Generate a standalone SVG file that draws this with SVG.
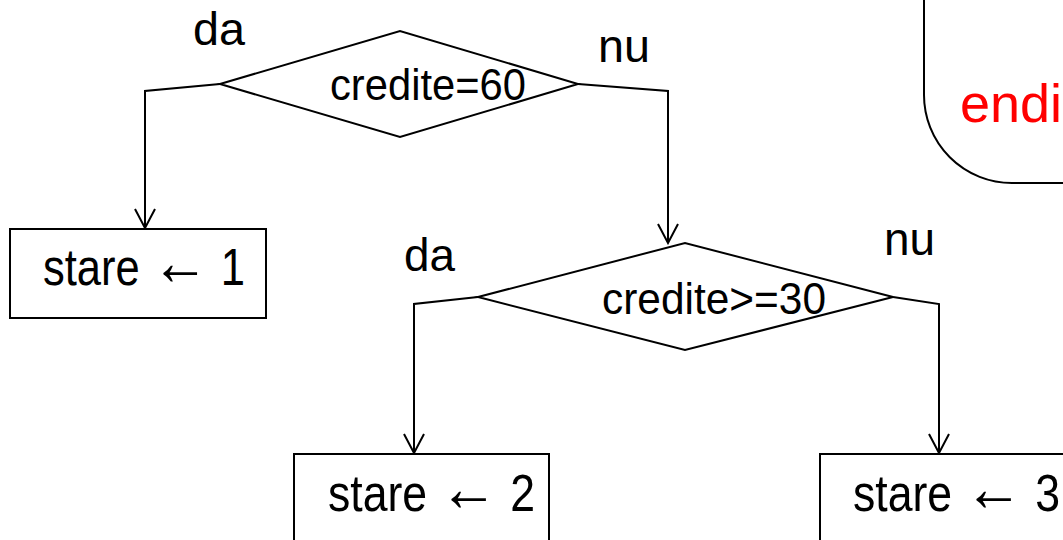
<svg xmlns="http://www.w3.org/2000/svg" width="1063" height="540" viewBox="0 0 1063 540">
<style>
.shape{fill:#fff;stroke:#000;stroke-width:2}
.t{font-family:"Liberation Sans",Arial,sans-serif;fill:#000}
.ar{font-size:68px}
.c{fill:none;stroke:#000;stroke-width:2}
</style>
<defs>
<marker id="arr" markerUnits="userSpaceOnUse" markerWidth="24" markerHeight="24" refX="0" refY="0" viewBox="-22 -12 24 24" orient="auto">
<path d="M -19 -10 L 0 0 L -19 10" fill="none" stroke="#000" stroke-width="2"/>
</marker>
</defs>
<rect width="1063" height="540" fill="#fff"/>
<g id="endif">
<path d="M 924 -10 L 924 95 A 88 88 0 0 0 1012 183 L 1070 183" class="c"/>
<text class="t" x="960" y="122" font-size="54" style="fill:#ff0000">endi</text>
</g>
<g id="connectors">
<polyline class="c" points="220,84 145,91 145,228" marker-end="url(#arr)"/>
<polyline class="c" points="578,84 668,91 668,243" marker-end="url(#arr)"/>
<polyline class="c" points="478,297 414,304 414,453" marker-end="url(#arr)"/>
<polyline class="c" points="893,297 939,304 939,453" marker-end="url(#arr)"/>
</g>
<g id="labels">
<text class="t" x="193" y="45" font-size="47" textLength="52" lengthAdjust="spacingAndGlyphs">da</text>
<text class="t" x="598" y="62" font-size="47" textLength="52" lengthAdjust="spacingAndGlyphs">nu</text>
<text class="t" x="404" y="271" font-size="47" textLength="51" lengthAdjust="spacingAndGlyphs">da</text>
<text class="t" x="884" y="255" font-size="47" textLength="51" lengthAdjust="spacingAndGlyphs">nu</text>
</g>
<g id="dec1">
<polygon class="shape" points="220,84 400,31 578,84 400,137"/>
<text class="t" x="330" y="100" font-size="45" textLength="196" lengthAdjust="spacingAndGlyphs">credite=60</text>
</g>
<g id="dec2">
<polygon class="shape" points="478,297 685,243 893,297 685,350"/>
<text class="t" x="602" y="314" font-size="45" textLength="224" lengthAdjust="spacingAndGlyphs">credite&gt;=30</text>
</g>
<g id="s1">
<rect class="shape" x="10" y="229" width="256" height="89"/>
<text class="t" x="43" y="285" font-size="52" textLength="202" lengthAdjust="spacingAndGlyphs">stare <tspan class="ar">←</tspan> 1</text>
</g>
<g id="s2">
<rect class="shape" x="294" y="454" width="255" height="100"/>
<text class="t" x="328" y="511" font-size="52" textLength="207" lengthAdjust="spacingAndGlyphs">stare <tspan class="ar">←</tspan> 2</text>
</g>
<g id="s3">
<rect class="shape" x="820" y="454" width="260" height="100"/>
<text class="t" x="853" y="511" font-size="52" textLength="207" lengthAdjust="spacingAndGlyphs">stare <tspan class="ar">←</tspan> 3</text>
</g>
</svg>
